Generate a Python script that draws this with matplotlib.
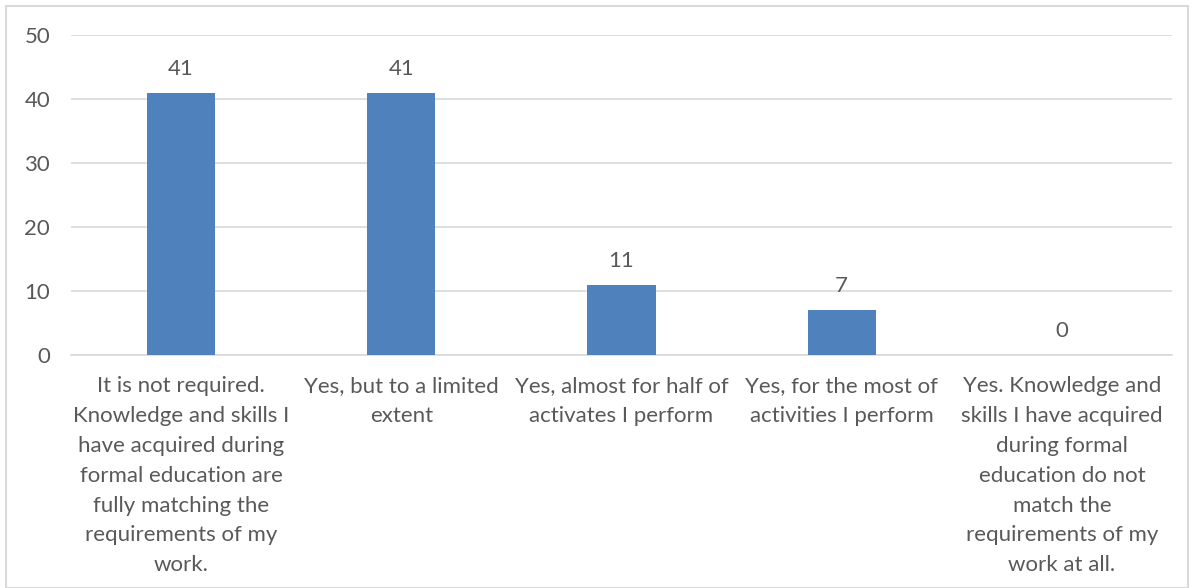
import matplotlib
matplotlib.use("Agg")
import matplotlib.pyplot as plt
from matplotlib.patches import Rectangle

categories = [
    "It is not required.\nKnowledge and skills I\nhave acquired during\nformal education are\nfully matching the\nrequirements of my\nwork.",
    "Yes, but to a limited\nextent",
    "Yes, almost for half of\nactivates I perform",
    "Yes, for the most of\nactivities I perform",
    "Yes. Knowledge and\nskills I have acquired\nduring formal\neducation do not\nmatch the\nrequirements of my\nwork at all.",
]
values = [41, 41, 11, 7, 0]
yticks = [0, 10, 20, 30, 40, 50]

plt.rcParams['font.family'] = ['Lato', 'DejaVu Sans']
text_color = '#595959'
bar_color = '#4F81BD'
fs = 16

fig = plt.figure(figsize=(11.94, 5.88), dpi=100)
fig.patches.append(Rectangle((6/1194, 0), 1 - 12/1194, 1 - 6/588, transform=fig.transFigure,
                             fill=False, edgecolor='#D9D9D9', linewidth=1.5))
ax = fig.add_axes([71/1194, 1 - 355/588, 1101/1194, 320/588])

x = list(range(len(categories)))
ax.bar(x, values, width=0.31, color=bar_color, zorder=3)
for xi, v in zip(x, values):
    ax.text(xi, v + 2.2, str(v), ha='center', va='bottom', fontsize=fs, color=text_color)

ax.set_xlim(-0.5, len(categories) - 0.5)
ax.set_ylim(0, 50)
ax.set_yticks(yticks)
ax.set_yticklabels([str(t) for t in yticks], fontsize=fs, color=text_color)
ax.set_xticks(x)
ax.set_xticklabels(categories, fontsize=fs, color=text_color, linespacing=1.62, va='top')
ax.tick_params(axis='both', length=0)
ax.tick_params(axis='y', pad=15)
ax.tick_params(axis='x', pad=15)
ax.grid(axis='y', color='#D9D9D9', linewidth=1.2, zorder=0)
for s in ['top', 'right', 'left']:
    ax.spines[s].set_visible(False)
ax.spines['bottom'].set_color('#D9D9D9')
ax.spines['bottom'].set_linewidth(1.2)

fig.savefig('out.png', dpi=100)
